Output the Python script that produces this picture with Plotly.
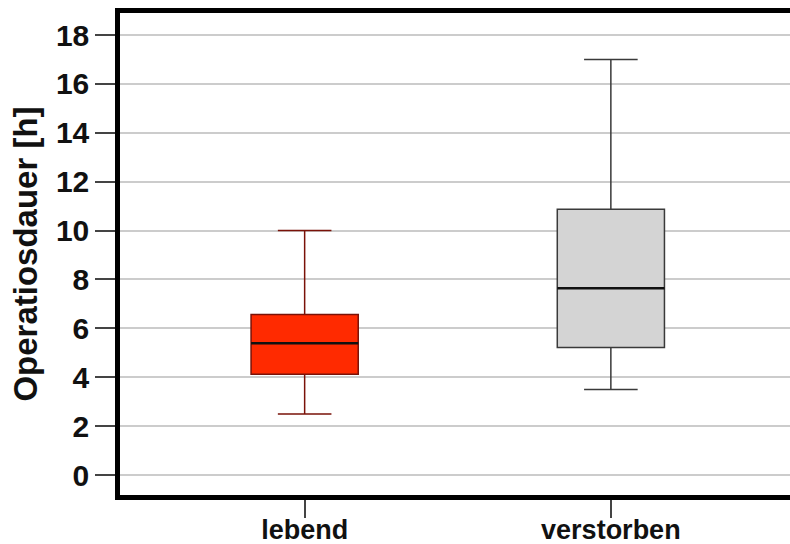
import plotly.graph_objects as go

categories = ["lebend", "verstorben"]
lower_whisker = [2.5, 3.5]
q1_values = [4.12, 5.22]
median_values = [5.39, 7.64]
q3_values = [6.57, 10.87]
upper_whisker = [10.0, 17.0]
fill_colors = ["#ff2a00", "#d4d4d4"]
line_colors = ["#7a1208", "#3a3a3a"]
y_tick_values = [0, 2, 4, 6, 8, 10, 12, 14, 16, 18]

BOX_W = 0.35

fig = go.Figure()
for i, cat in enumerate(categories):
    fig.add_trace(go.Box(
        x=[cat],
        q1=[q1_values[i]], median=[median_values[i]], q3=[q3_values[i]],
        lowerfence=[lower_whisker[i]], upperfence=[upper_whisker[i]],
        fillcolor=fill_colors[i],
        line=dict(color=line_colors[i], width=1.5),
        width=BOX_W, whiskerwidth=0.5,
        boxpoints=False, showlegend=False, hoverinfo="skip",
    ))
    # thicker median line
    fig.add_shape(type="line", xref="x", yref="y",
                  x0=i - BOX_W / 2, x1=i + BOX_W / 2,
                  y0=median_values[i], y1=median_values[i],
                  line=dict(color="#111111", width=2.5), layer="above")

font_family = "Liberation Sans, Arial, Helvetica, sans-serif"

fig.update_layout(
    width=790, height=544,
    margin=dict(l=120, r=0, t=13, b=49),
    paper_bgcolor="white", plot_bgcolor="white",
    font=dict(family=font_family, color="#111111"),
    xaxis=dict(
        type="category",
        categoryorder="array", categoryarray=categories,
        range=[-0.603, 1.585],
        automargin=False,
        showline=True, linecolor="black", linewidth=4.5, mirror=True,
        ticks="outside", ticklen=18, tickwidth=1.5, tickcolor="#444444",
        ticklabelstandoff=-11,
        tickfont=dict(size=27, weight="bold", family=font_family, color="#111111"),
        showgrid=False, zeroline=False,
    ),
    yaxis=dict(
        range=[-0.818, 18.9],
        tickvals=y_tick_values,
        automargin=False,
        showline=True, linecolor="black", linewidth=4.5, mirror=False,
        ticks="outside", ticklen=20, tickwidth=1.5, tickcolor="#444444",
        tickfont=dict(size=30, weight="bold", family=font_family, color="#111111"),
        showgrid=True, gridcolor="#cccccc", gridwidth=1.5,
        zeroline=False,
        title=dict(text="Operatiosdauer [h]", standoff=10,
                   font=dict(size=33, weight="bold", family=font_family, color="#111111")),
    ),
)

fig.write_html("out.html")
